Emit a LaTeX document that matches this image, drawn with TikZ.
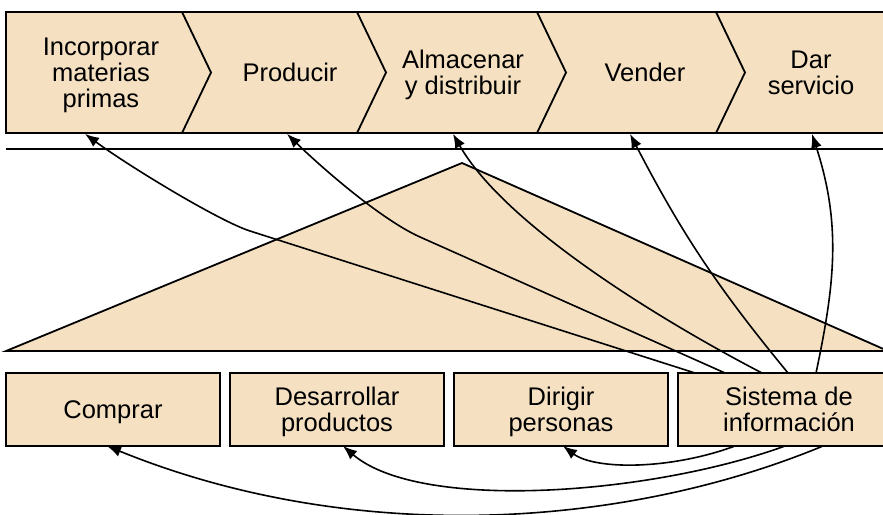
\documentclass[tikz,border=0pt]{standalone}
\usepackage{fontspec}
\setmainfont{Liberation Sans}
\usetikzlibrary{positioning,arrows.meta}
\definecolor{arena}{RGB}{245,225,194}

\begin{document}
\begin{tikzpicture}[x=1pt, y=-1pt, line width=1.8pt,
		etapa/.style={minimum height=121pt, text depth=0pt, align=center, font=\fontsize{25.5}{26}\selectfont},
		apoyo/.style={draw, fill=arena, outer sep=0pt, minimum width=214pt, minimum height=73pt, text depth=0pt, align=center, font=\fontsize{25.5}{26}\selectfont},
		flecha/.style={-{Latex[length=14pt,width=11pt]}, line width=1.6pt}]
	\clip (0,0) rectangle (883,514);
	\draw [fill=arena] (6,12) rectangle (905,133);
	\draw (182,12) -- (211,72.5) -- (182,133) (357,12) -- (386,72.5) -- (357,133)
		(537,12) -- (566,72.5) -- (537,133) (716,12) -- (745,72.5) -- (716,133);
	\draw (6,149) -- (905,149);
	\draw [fill=arena] (6,351) -- (462,163) -- (888,351) -- cycle;
	\draw (888,351) -- (905,351);

	\node (incorporar) [etapa] at (101,72.5) {Incorporar\\materias\\primas};
	\node (producir) [etapa] at (290,72.5) {Producir};
	\node (almacenar) [etapa] at (463,72.5) {Almacenar\\y distribuir};
	\node (vender) [etapa] at (645,72.5) {Vender};
	\node (servicio) [etapa] at (811,72.5) {Dar\\servicio};

	\node (comprar) [apoyo] at (113,409.5) {Comprar};
	\node (desarrollar) [apoyo, right=10pt of comprar] {Desarrollar\\productos};
	\node (dirigir) [apoyo, right=10pt of desarrollar] {Dirigir\\personas};
	\node (sistema) [apoyo, right=10pt of dirigir, minimum width=222pt] {Sistema de\\información};

	\draw [flecha] ([xshift=-94pt]sistema.north) -- (250,231) .. controls (220,221.5) and (130,167) .. ([xshift=-16pt]incorporar.south);
	\draw [flecha] ([xshift=-64pt]sistema.north) -- (420,237) .. controls (380,219) and (320,166) .. ([xshift=-3pt]producir.south);
	\draw [flecha] ([xshift=-27pt]sistema.north) .. controls (660,320) and (505,225) .. ([xshift=-10pt]almacenar.south);
	\draw [flecha] ([xshift=-1pt]sistema.north) to [bend left=6] ([xshift=-15pt]vender.south);
	\draw [flecha] ([xshift=27pt]sistema.north) to [out=78, in=-72] ([xshift=1pt]servicio.south);

	\draw [flecha] ([xshift=-54pt]sistema.south) .. controls (670,470) and (595,470) .. ([xshift=2pt]dirigir.south);
	\draw [flecha] ([xshift=-4pt]sistema.south) .. controls (650,495) and (420,512) .. ([xshift=6pt]desarrollar.south);
	\draw [flecha] ([xshift=34pt]sistema.south) .. controls (620,530) and (350,545) .. ([xshift=-6pt]comprar.south);
\end{tikzpicture}
\end{document}
